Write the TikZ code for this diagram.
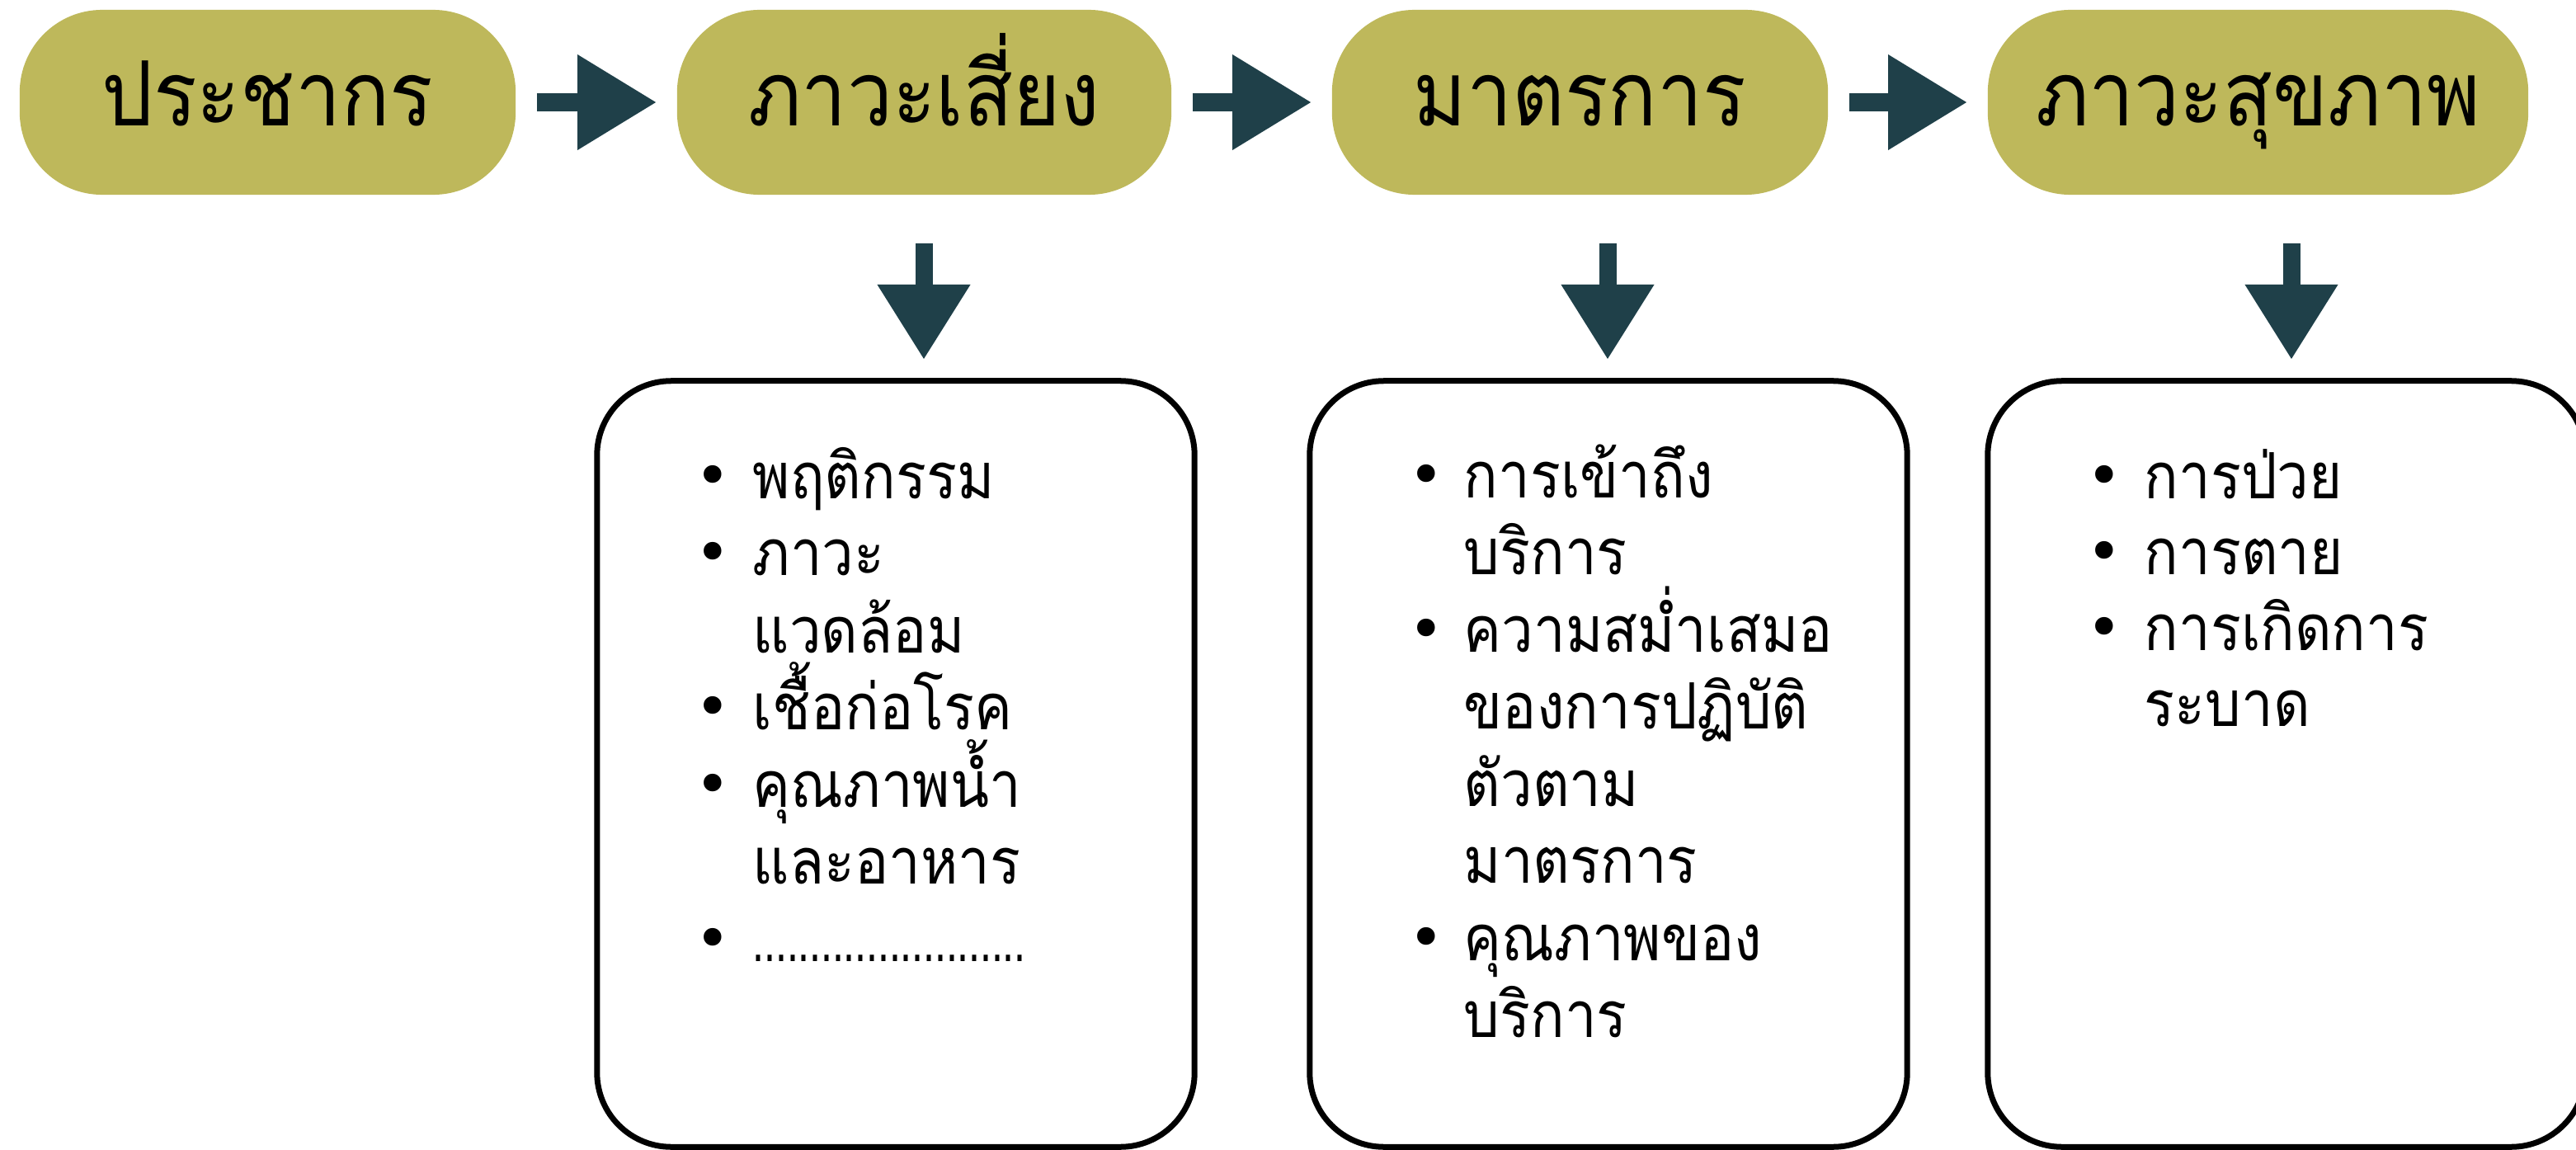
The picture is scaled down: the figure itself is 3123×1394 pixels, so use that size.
\documentclass[tikz,border=0pt]{standalone}
\usepackage{fontspec}
\usepackage{graphicx}
\newfontfamily\headfont[Script=Thai,FakeStretch=0.9]{Loma}
\newfontfamily\bodyfont[Script=Thai,FakeStretch=0.89]{Loma}
\newfontfamily\symfont{DejaVu Sans}
\usetikzlibrary{arrows.meta}
\definecolor{pillc}{RGB}{190,184,91}
\definecolor{arrowc}{RGB}{31,64,73}
\newcommand\mydotrow{\scalebox{0.72}[1]{........................}}
\begin{document}
\begin{tikzpicture}[x=0.01cm,y=-0.01cm,
  pill/.style={rectangle, fill=pillc, rounded corners=1cm, minimum height=2.24cm,
    inner sep=0pt, text height=0.56cm, text depth=0pt,
    font=\headfont\fontsize{31}{36}\selectfont},
  listbox/.style={rectangle, draw=black, line width=0.07cm, rounded corners=0.9cm,
    minimum width=7.24cm, minimum height=9.28cm, inner sep=0pt},
  flow/.style={draw=arrowc, line width=0.22cm,
    -{Triangle[length=0.95cm, width=1.16cm, line width=0pt, fill=arrowc]},
    shorten <=0.25cm, shorten >=0.25cm},
  downflow/.style={draw=arrowc, line width=0.21cm,
    -{Triangle[length=0.9cm, width=1.13cm, line width=0pt, fill=arrowc]}},
  bodytext/.style={anchor=base west, inner sep=0pt,
    font=\bodyfont\fontsize{22}{26}\selectfont},
  bulletmark/.style={anchor=center, inner sep=0pt,
    font=\symfont\fontsize{21}{24}\selectfont}]
\useasboundingbox (0,0) rectangle (3123,1394);

% top row
\node[pill, minimum width=6.01cm] (p1) at (324.5,124) {ประชากร};
\node[pill, minimum width=5.99cm] (p2) at (1120.5,124) {ภาวะเสี่ยง};
\node[pill, minimum width=6.01cm] (p3) at (1915.5,124) {มาตรการ};
\node[pill, minimum width=6.55cm] (p4) at (2737.5,124) {ภาวะสุขภาพ};

\draw[flow] (p1.east) -- (p2.west);
\draw[flow] (p2.east) -- (p3.west);
\draw[flow] (p3.east) -- (p4.west);

% boxes
\node[listbox] (b1) at (1086,926) {};
\node[listbox] (b2) at (1950,926) {};
\node[listbox] (b3) at (2772,926) {};

% down arrows
\coordinate (d1s) at (1120,295); \coordinate (d1e) at (1120,435);
\coordinate (d2s) at (1949,295); \coordinate (d2e) at (1949,435);
\coordinate (d3s) at (2778,295); \coordinate (d3e) at (2778,435);
\draw[downflow] (d1s) -- (d1e);
\draw[downflow] (d2s) -- (d2e);
\draw[downflow] (d3s) -- (d3e);

% box 1 text
\foreach \b/\t [count=\i] in {1/พฤติกรรม, 1/ภาวะ, 0/แวดล้อม, 1/เชื้อก่อโรค, 1/คุณภาพน้ำ, 0/และอาหาร, 1/\mydotrow}{
  \node[bodytext] (ta\i) at (912,{604+93.5*(\i-1)}) {\t};
  \ifnum\b=1 \node[bulletmark] (ua\i) at (864,{583+93.5*(\i-1)}) {•};\fi
}
% box 2 text
\foreach \b/\t [count=\i] in {1/การเข้าถึง, 0/บริการ, 1/ความสม่ำเสมอ, 0/ของการปฏิบัติ, 0/ตัวตาม, 0/มาตรการ, 1/คุณภาพของ, 0/บริการ}{
  \node[bodytext] (tb\i) at (1774,{603+93.5*(\i-1)}) {\t};
  \ifnum\b=1 \node[bulletmark] (ub\i) at (1729,{582+93.5*(\i-1)}) {•};\fi
}
% box 3 text
\foreach \b/\t [count=\i] in {1/การป่วย, 1/การตาย, 1/การเกิดการ, 0/ระบาด}{
  \node[bodytext] (tc\i) at (2599,{604+92*(\i-1)}) {\t};
  \ifnum\b=1 \node[bulletmark] (uc\i) at (2551,{583+92*(\i-1)}) {•};\fi
}
\end{tikzpicture}
\end{document}
